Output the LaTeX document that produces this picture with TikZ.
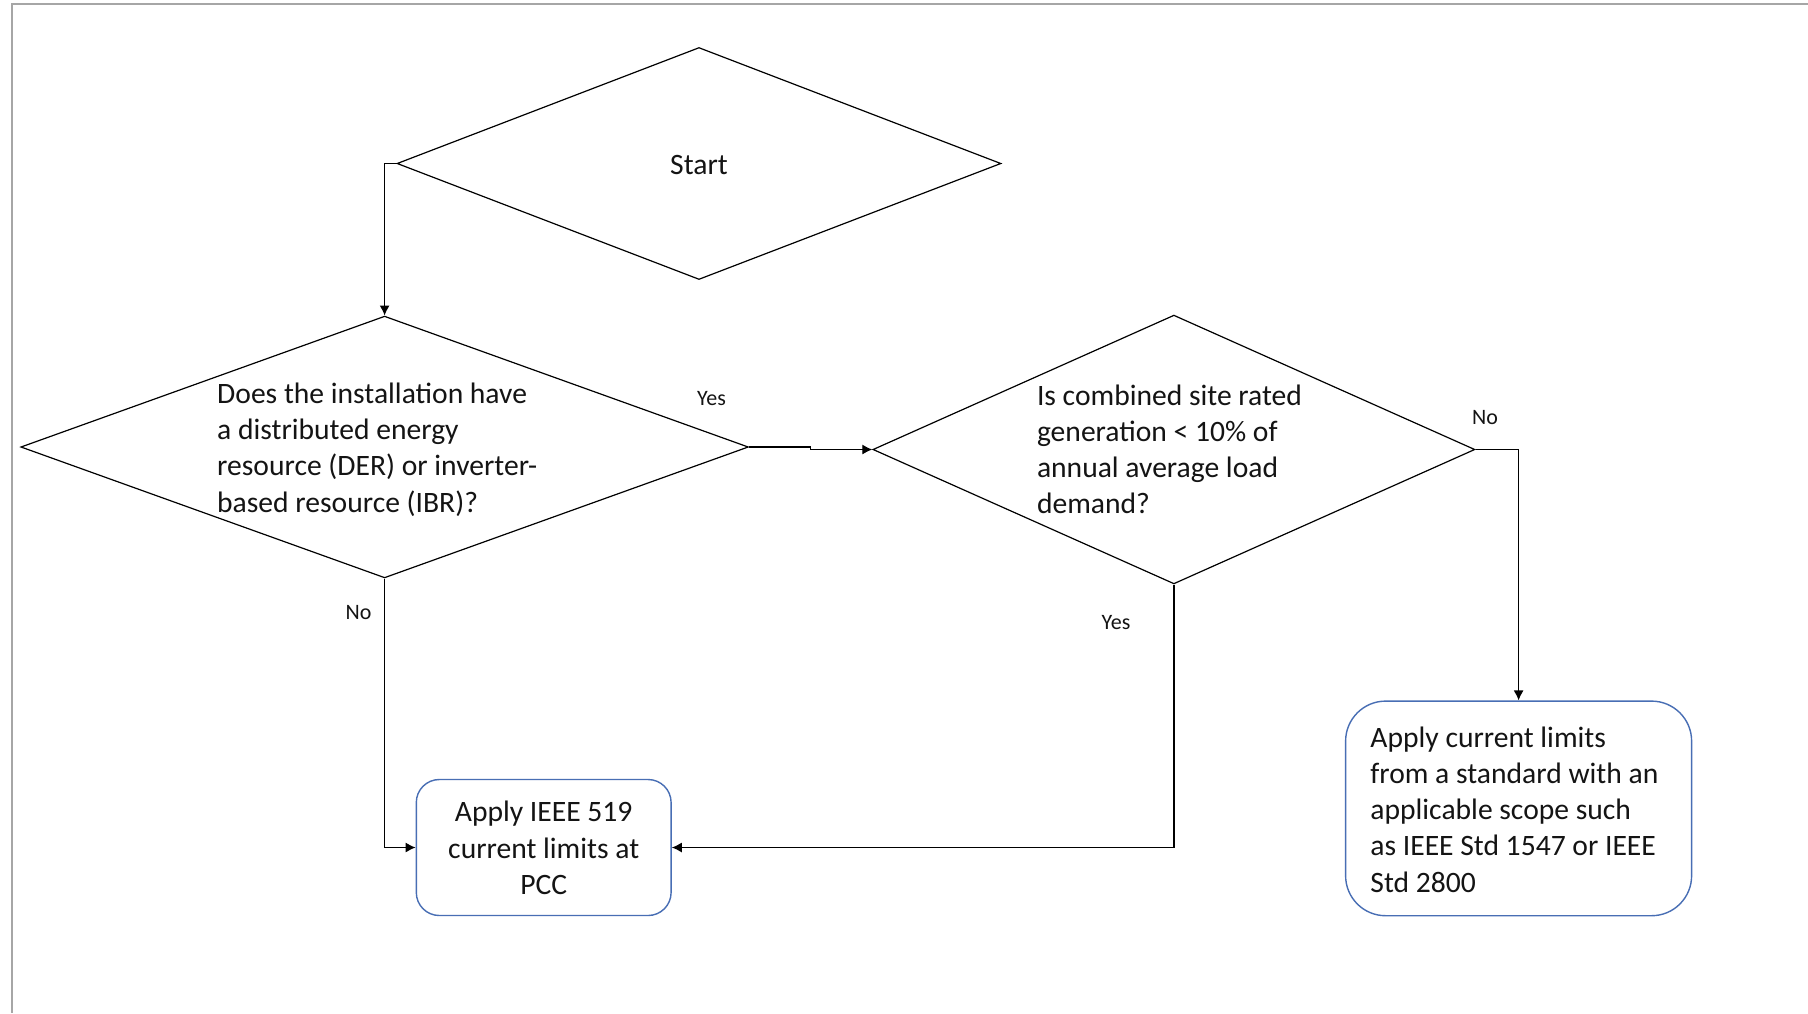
\documentclass[tikz,border=0pt]{standalone}
\usepackage{fontspec}
\setmainfont{Carlito}
\usetikzlibrary{shapes.geometric,arrows.meta}
\definecolor{framegray}{RGB}{166,166,166}
\definecolor{boxblue}{RGB}{72,110,180}
\definecolor{txt}{RGB}{20,20,20}
\begin{document}
\begin{tikzpicture}[x=0.5pt,y=-0.5pt,
  diam/.style={draw=black,line width=0.6pt,diamond,inner sep=0pt},
  rbox/.style={draw=boxblue,line width=0.7pt,rectangle,inner sep=0pt},
  qtext/.style={align=left,inner sep=0pt,text=txt,font=\fontsize{14.8}{18.1}\selectfont},
  btext/.style={inner sep=0pt,text=txt,font=\fontsize{14.8}{18.1}\selectfont},
  lbl/.style={inner sep=0pt,text=txt,font=\fontsize{11}{13}\selectfont},
  conn/.style={draw=black,line width=0.6pt},
  arr/.style={conn,-{Latex[length=5pt,width=5pt]}}]
\useasboundingbox (0,0) rectangle (1808,1013);
\fill[white] (0,0) rectangle (1808,1013);
% frame
\draw[framegray,line width=1pt] (12,1013) -- (12,3.5) -- (1808,3.5);
% shapes
\node[diam,minimum width=302pt,minimum height=116pt] (s) at (699,163.5) {};
\node[btext] (st) at (699,164.5) {Start};
\node[diam,minimum width=363.8pt,minimum height=130.9pt] (d1) at (384.6,447) {};
\node[qtext,anchor=west] (t1) at (216.8,449.5) {Does the installation have\\a distributed energy\\resource (DER) or inverter-\\based resource (IBR)?};
\node[diam,minimum width=301pt,minimum height=134.4pt] (d2) at (1173.9,449.5) {};
\node[qtext,anchor=west] (t2) at (1036.6,449.5) {Is combined site rated\\generation {<} 10\% of\\annual average load\\demand?};
\node[rbox,rounded corners=11.5pt,minimum width=127.4pt,minimum height=68pt] (b1) at (543.7,847.5) {};
\node[btext,align=center] (bt1) at (543.7,848) {Apply IEEE 519\\current limits at\\PCC};
\node[rbox,rounded corners=20pt,minimum width=173pt,minimum height=107.3pt] (b2) at (1518.6,808.4) {};
\node[btext,align=left,anchor=west] (bt2) at (1370,809.5) {Apply current limits\\from a standard with an\\applicable scope such\\as IEEE Std 1547 or IEEE\\Std 2800};
% connectors
\draw[arr] (s.west) -| (d1.north);
\coordinate (j1) at (810.6,447);
\draw[arr] (d1.east) -- (j1) |- (d2.west);
\draw[arr] (d1.south) |- (b1.west);
\draw[arr] (d2.south) |- (b1.east);
\draw[arr] (d2.east) -| (b2.north);
% labels
\node[lbl] (y1) at (711.5,399) {Yes};
\node[lbl] (n1) at (358.6,612.3) {No};
\node[lbl] (y2) at (1116,622.7) {Yes};
\node[lbl] (n2) at (1485,417.4) {No};
\end{tikzpicture}
\end{document}
